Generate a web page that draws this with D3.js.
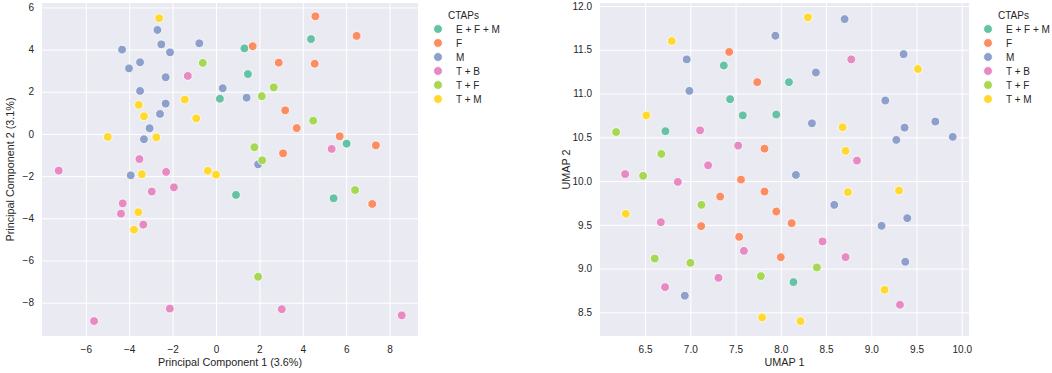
<!DOCTYPE html>
<html>
<head>
<meta charset="utf-8">
<script src="https://cdn.jsdelivr.net/npm/d3@7/dist/d3.min.js"></script>
<style>
  html, body { margin: 0; padding: 0; background: #ffffff; }
  svg { display: block; font-family: "Liberation Sans", Arial, "DejaVu Sans", sans-serif; }
</style>
</head>
<body>
<svg id="chart" width="1052" height="373"></svg>
<script>
// CTAP groups and Set2 colours
const categories = ["E + F + M", "F", "M", "T + B", "T + F", "T + M"];
const colors = ["#66c2a5", "#fc8d62", "#8da0cb", "#e78ac3", "#a6d854", "#ffd92f"];

// PCA coordinates [PC1, PC2] per group
const pcaEFM = [[0.18,1.67],[1.31,4.06],[4.38,4.50],[1.47,2.84],[6.02,-0.46],[0.92,-2.89],[5.42,-3.05]];
const pcaF   = [[4.58,5.58],[6.48,4.65],[1.69,4.16],[2.89,3.38],[4.55,3.33],[3.19,1.12],[3.72,0.28],[5.70,-0.11],[7.37,-0.54],[3.09,-0.92],[7.20,-3.32]];
const pcaM   = [[-2.70,4.93],[-4.33,4.00],[-2.52,4.25],[-2.12,3.87],[-0.77,4.30],[-3.50,3.40],[-4.01,3.11],[-2.32,2.69],[-3.50,2.04],[-2.32,1.44],[-2.58,0.95],[-3.06,0.27],[-3.32,-0.25],[-3.93,-1.96],[0.31,2.17],[1.41,1.72],[1.94,-1.44]];
const pcaTB  = [[-1.30,2.75],[-3.53,-1.19],[-7.25,-1.74],[-2.30,-1.80],[5.33,-0.71],[-2.96,-2.73],[-1.94,-2.53],[-4.30,-3.29],[-4.38,-3.78],[-3.35,-4.30],[-2.13,-8.28],[-5.62,-8.87],[3.03,-8.31],[8.56,-8.60]];
const pcaTF  = [[-0.61,3.37],[2.66,2.21],[2.11,1.79],[4.48,0.63],[1.77,-0.63],[2.13,-1.25],[6.41,-2.66],[1.94,-6.77]];
const pcaTM  = [[-2.62,5.49],[-3.56,1.38],[-1.44,1.63],[-3.32,0.84],[-0.91,0.74],[-4.99,-0.14],[-2.75,-0.16],[-3.42,-1.91],[-0.38,-1.75],[0.00,-1.93],[-3.58,-3.71],[-3.78,-4.54]];

// UMAP coordinates [UMAP 1, UMAP 2] per group
const umapEFM = [[7.37,11.32],[7.44,10.935],[7.58,10.75],[7.95,10.76],[6.725,10.57],[8.09,11.13],[8.14,8.846]];
const umapF   = [[7.43,11.475],[7.74,11.13],[7.82,10.37],[7.56,10.017],[7.82,9.88],[7.33,9.823],[7.95,9.652],[7.12,9.485],[7.54,9.363],[8.00,9.13],[8.12,9.519]];
const umapM   = [[7.94,11.66],[6.96,11.39],[6.99,11.03],[8.705,11.85],[9.357,11.45],[8.388,11.24],[9.155,10.92],[8.344,10.66],[9.368,10.61],[9.708,10.68],[9.277,10.47],[9.90,10.505],[8.167,10.07],[6.939,8.69],[8.591,9.728],[9.398,9.576],[9.114,9.489],[9.376,9.078]];
const umapTB  = [[7.108,10.58],[7.529,10.405],[7.197,10.18],[6.28,10.08],[8.779,11.39],[8.842,10.234],[6.862,9.99],[6.674,9.53],[7.592,9.203],[7.311,8.895],[6.721,8.789],[8.461,9.31],[8.716,9.131],[9.317,8.587]];
const umapTF  = [[6.18,10.56],[6.68,10.31],[6.478,10.06],[7.123,9.728],[6.607,9.115],[7.001,9.066],[7.78,8.914],[8.399,9.013]];
const umapTM  = [[6.795,11.60],[6.514,10.75],[8.30,11.87],[9.516,11.28],[8.683,10.615],[8.716,10.345],[6.287,9.626],[7.794,8.442],[8.742,9.873],[9.306,9.892],[9.147,8.758],[8.218,8.40]];

// tick values
const pcaXTicks = [-6, -4, -2, 0, 2, 4, 6, 8];
const pcaYTicks = [-8, -6, -4, -2, 0, 2, 4, 6];
const umapXTicks = [6.5, 7.0, 7.5, 8.0, 8.5, 9.0, 9.5, 10.0];
const umapYTicks = [8.5, 9.0, 9.5, 10.0, 10.5, 11.0, 11.5, 12.0];

const svg = d3.select("#chart");
const textColor = "#262626";

function panel(cfg) {
  const { left, right, top, bottom, xDomain, yDomain, xTicks, yTicks, fmt, groups, xLabel, yLabel, yLabelX, legendX } = cfg;
  const x = d3.scaleLinear().domain(xDomain).range([left, right]);
  const y = d3.scaleLinear().domain(yDomain).range([bottom, top]);
  const g = svg.append("g");

  // axes background
  g.append("rect").attr("x", left).attr("y", top)
    .attr("width", right - left).attr("height", bottom - top)
    .attr("fill", "#eaeaf2");

  // white grid with tick labels
  const gx = g.append("g").attr("transform", `translate(0,${bottom})`)
    .call(d3.axisBottom(x).tickValues(xTicks).tickSize(-(bottom - top)).tickFormat(fmt).tickPadding(7));
  const gy = g.append("g").attr("transform", `translate(${left},0)`)
    .call(d3.axisLeft(y).tickValues(yTicks).tickSize(-(right - left)).tickFormat(fmt).tickPadding(8));
  [gx, gy].forEach(a => {
    a.select(".domain").remove();
    a.selectAll(".tick line").attr("stroke", "#ffffff").attr("stroke-width", 1);
    a.selectAll(".tick text").attr("fill", textColor).style("font-size", "10px");
  });
  gx.selectAll(".tick text").attr("dy", "0.95em");

  // points
  groups.forEach((pts, i) => {
    g.append("g").selectAll("circle").data(pts).join("circle")
      .attr("cx", d => x(d[0])).attr("cy", d => y(d[1]))
      .attr("r", 4.4)
      .attr("fill", colors[i])
      .attr("stroke", "#ffffff").attr("stroke-width", 0.8);
  });

  // axis titles
  g.append("text").attr("x", (left + right) / 2).attr("y", 366)
    .attr("text-anchor", "middle").attr("fill", textColor).style("font-size", "10.8px").text(xLabel);
  g.append("text").attr("transform", `translate(${yLabelX},${(top + bottom) / 2}) rotate(-90)`)
    .attr("text-anchor", "middle").attr("fill", textColor).style("font-size", "10.8px").text(yLabel);

  // legend
  const lg = g.append("g");
  lg.append("text").attr("x", legendX + 10).attr("y", 19)
    .attr("fill", textColor).style("font-size", "10px").text("CTAPs");
  categories.forEach((c, i) => {
    const cy = 29 + i * 14;
    lg.append("circle").attr("cx", legendX).attr("cy", cy).attr("r", 4.4)
      .attr("fill", colors[i]).attr("stroke", "#ffffff").attr("stroke-width", 0.8);
    lg.append("text").attr("x", legendX + 18).attr("y", cy + 3.6)
      .attr("fill", textColor).style("font-size", "10px").text(c);
  });
}

panel({
  left: 42, right: 418, top: 3, bottom: 336,
  xDomain: [-8.02, 9.31], yDomain: [-9.58, 6.21],
  xTicks: pcaXTicks, yTicks: pcaYTicks, fmt: d3.format("d"),
  groups: [pcaEFM, pcaF, pcaM, pcaTB, pcaTF, pcaTM],
  xLabel: "Principal Component 1 (3.6%)", yLabel: "Principal Component 2 (3.1%)",
  yLabelX: 14, legendX: 438
});

panel({
  left: 600, right: 969, top: 3, bottom: 336,
  xDomain: [6.002, 10.08], yDomain: [8.23, 12.034],
  xTicks: umapXTicks, yTicks: umapYTicks, fmt: d3.format(".1f"),
  groups: [umapEFM, umapF, umapM, umapTB, umapTF, umapTM],
  xLabel: "UMAP 1", yLabel: "UMAP 2",
  yLabelX: 570, legendX: 988
});
</script>
</body>
</html>
